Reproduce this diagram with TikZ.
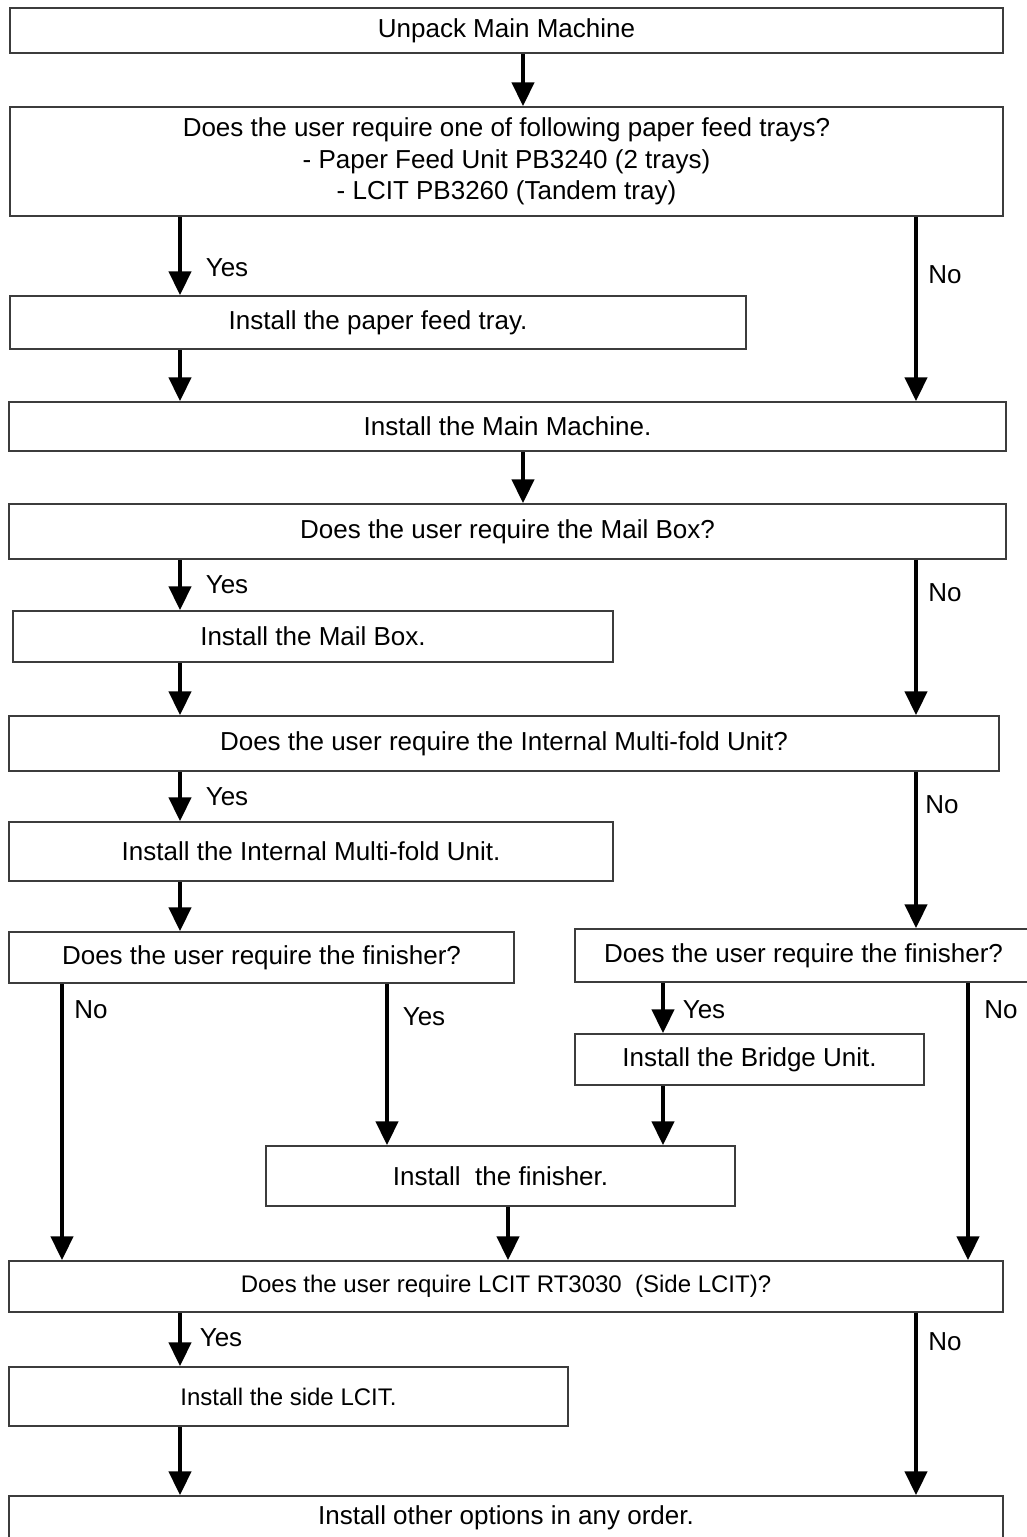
\documentclass[tikz,border=0pt]{standalone}
\usepackage{fontspec}
\setmainfont{Liberation Sans}
\usepackage{xcolor}
\usetikzlibrary{arrows.meta}
\definecolor{boxgrey}{HTML}{3C3C3C}
\definecolor{flowblack}{HTML}{000000}
\tikzset{
  box/.style={
    draw=boxgrey, fill=white, align=center, inner sep=0pt,
    font=\fontsize{26}{31.5}\selectfont, line width=1.5pt,
  },
  smallbox/.style={box, font=\fontsize{24}{29}\selectfont},
  flow/.style ={-{Triangle[length=24pt, width=22pt]}, draw=flowblack,
                line width=4.5pt},
  lbl/.style  ={font=\fontsize{26}{31.5}\selectfont, inner sep=0pt},
}
\begin{document}
\begin{tikzpicture}[x=1pt, y=-1pt]

\clip (0,0) rectangle (1027,1537);
\fill[white] (0,0) rectangle (1027,1537);

% arrow columns
\coordinate (colMid)    at (523,0);
\coordinate (colYes)    at (180,0);
\coordinate (colNo)     at (916,0);
\coordinate (colFinL)   at (62,0);
\coordinate (colFinY)   at (387,0);
\coordinate (colBridge) at (663,0);
\coordinate (colFin)    at (508,0);
\coordinate (colFinN)   at (968,0);

% ============================================ main machine and trays
\node[box, minimum width=993pt, minimum height=45pt] (unpack) at (506.5,30.5)
  {Unpack Main Machine};
\node[box, minimum width=993pt, minimum height=109pt] (trays) at (506.5,161.5)
  {Does the user require one of following paper feed trays?\\
   - Paper Feed Unit PB3240 (2 trays)\\
   - LCIT PB3260 (Tandem tray)};
\node[box, minimum width=736pt, minimum height=53pt] (feed) at (378,322.5)
  {Install the paper feed tray.};
\node[box, minimum width=997pt, minimum height=49pt] (mainmc) at (507.5,426.5)
  {Install the Main Machine.};

\draw[flow] (unpack.south -| colMid) -- (trays.north -| colMid);
\draw[flow] (trays.south -| colYes) -- (feed.north -| colYes);
\draw[flow] (trays.south -| colNo) -- (mainmc.north -| colNo);
\draw[flow] (feed.south -| colYes) -- (mainmc.north -| colYes);
\node[lbl] (yes1) at (227,268) {Yes};
\node[lbl] (no1)  at (945,275) {No};

% ============================================ mail box
\node[box, minimum width=997pt, minimum height=55pt] (mailq) at (507.5,531.5)
  {Does the user require the Mail Box?};
\node[box, minimum width=600pt, minimum height=51pt] (mail) at (313,636.5)
  {Install the Mail Box.};

\draw[flow] (mainmc.south -| colMid) -- (mailq.north -| colMid);
\draw[flow] (mailq.south -| colYes) -- (mail.north -| colYes);
\node[lbl] (yes2) at (227,585) {Yes};
\node[lbl] (no2)  at (945,593) {No};

% ============================================ internal multi-fold unit
\node[box, minimum width=990pt, minimum height=55pt] (foldq) at (504,743.5)
  {Does the user require the Internal Multi-fold Unit?};
\node[box, minimum width=604pt, minimum height=59pt] (fold) at (311,851.5)
  {Install the Internal Multi-fold Unit.};

\draw[flow] (mailq.south -| colNo) -- (foldq.north -| colNo);
\draw[flow] (mail.south -| colYes) -- (foldq.north -| colYes);
\draw[flow] (foldq.south -| colYes) -- (fold.north -| colYes);
\node[lbl] (yes3) at (227,797) {Yes};
\node[lbl] (no3)  at (942,805) {No};

% ============================================ finisher, two branches
\node[box, minimum width=505pt, minimum height=51pt] (finqL) at (261.5,957.5)
  {Does the user require the finisher?};
\node[box, minimum width=457pt, minimum height=53pt] (finqR) at (803.5,955.5)
  {Does the user require the finisher?};
\node[box, minimum width=349pt, minimum height=51pt] (bridge) at (749.5,1059.5)
  {Install the Bridge Unit.};
\node[box, minimum width=469pt, minimum height=60pt] (fin) at (500.5,1176)
  {Install\ \ the finisher.};

\draw[flow] (fold.south -| colYes) -- (finqL.north -| colYes);
\draw[flow] (foldq.south -| colNo) -- (finqR.north -| colNo);
\draw[flow] (finqL.south -| colFinY) -- (fin.north -| colFinY);
\draw[flow] (finqR.south -| colBridge) -- (bridge.north -| colBridge);
\draw[flow] (bridge.south -| colBridge) -- (fin.north -| colBridge);
\node[lbl] (no4)  at (91,1010)   {No};
\node[lbl] (yes4) at (424,1017)  {Yes};
\node[lbl] (yes5) at (704,1010)  {Yes};
\node[lbl] (no5)  at (1001,1010) {No};

% ============================================ side LCIT and the rest
\node[smallbox, minimum width=994pt, minimum height=51pt] (lcitq) at (506,1286.5)
  {Does the user require LCIT RT3030\ \ (Side LCIT)?};
\node[smallbox, minimum width=559pt, minimum height=59pt] (lcit) at (288.5,1396.5)
  {Install the side LCIT.};
\node[box, minimum width=994pt, minimum height=44pt] (other) at (506,1518)
  {Install other options in any order.};

\draw[flow] (finqL.south -| colFinL) -- (lcitq.north -| colFinL);
\draw[flow] (fin.south -| colFin) -- (lcitq.north -| colFin);
\draw[flow] (finqR.south -| colFinN) -- (lcitq.north -| colFinN);
\draw[flow] (lcitq.south -| colYes) -- (lcit.north -| colYes);
\draw[flow] (lcitq.south -| colNo) -- (other.north -| colNo);
\draw[flow] (lcit.south -| colYes) -- (other.north -| colYes);
\node[lbl] (yes6) at (221,1338) {Yes};
\node[lbl] (no6)  at (945,1342) {No};

\end{tikzpicture}
\end{document}
